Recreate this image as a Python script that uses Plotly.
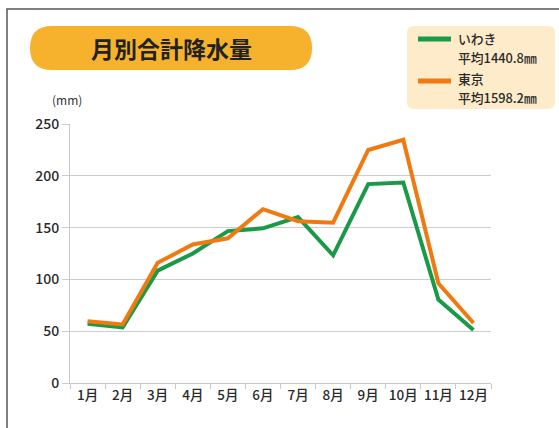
import plotly.graph_objects as go

months = ["1月", "2月", "3月", "4月", "5月", "6月", "7月", "8月", "9月", "10月", "11月", "12月"]
iwaki = [57.2, 53.6, 108.5, 125.0, 146.6, 149.3, 160.2, 123.3, 192.0, 193.5, 80.5, 51.1]
tokyo = [59.7, 56.5, 116.0, 133.7, 139.7, 167.8, 156.2, 154.7, 224.9, 234.8, 96.3, 57.9]
y_ticks = [0, 50, 100, 150, 200, 250]

W, H = 559, 428
L, R, T, B = 70, 491, 124, 383
FONT = "Noto Sans CJK JP"
GREEN = "#1a9a48"
ORANGE = "#ef7a12"


def px(x):
    return (x - L) / (R - L)


def py(y):
    return (B - y) / (B - T)


def rounded_rect(x0, y0, x1, y1, r):
    pts = [
        f"M {px(x0 + r)} {py(y0)}",
        f"L {px(x1 - r)} {py(y0)}",
        f"Q {px(x1)} {py(y0)} {px(x1)} {py(y0 + r)}",
        f"L {px(x1)} {py(y1 - r)}",
        f"Q {px(x1)} {py(y1)} {px(x1 - r)} {py(y1)}",
        f"L {px(x0 + r)} {py(y1)}",
        f"Q {px(x0)} {py(y1)} {px(x0)} {py(y1 - r)}",
        f"L {px(x0)} {py(y0 + r)}",
        f"Q {px(x0)} {py(y0)} {px(x0 + r)} {py(y0)}",
        "Z",
    ]
    return " ".join(pts)


fig = go.Figure()
fig.add_trace(go.Scatter(x=months, y=iwaki, mode="lines", name="いわき",
                         line=dict(color=GREEN, width=4), showlegend=False, hoverinfo="skip"))
fig.add_trace(go.Scatter(x=months, y=tokyo, mode="lines", name="東京",
                         line=dict(color=ORANGE, width=4), showlegend=False, hoverinfo="skip"))

shapes = [
    # outer frame (top and left visible)
    dict(type="rect", xref="paper", yref="paper", x0=px(7), y0=py(9), x1=px(620), y1=py(460),
         line=dict(color="#555555", width=1.5), fillcolor="rgba(0,0,0,0)", layer="below"),
    # title pill
    dict(type="path", xref="paper", yref="paper", path=rounded_rect(30, 26, 312, 70, 22),
         fillcolor="#f6b22c", line=dict(width=0), layer="below"),
    # legend box
    dict(type="path", xref="paper", yref="paper", path=rounded_rect(407, 26, 555, 109, 7),
         fillcolor="#fdebc9", line=dict(width=0), layer="below"),
    # legend swatches
    dict(type="line", xref="paper", yref="paper", x0=px(418), x1=px(451), y0=py(39), y1=py(39),
         line=dict(color=GREEN, width=5)),
    dict(type="line", xref="paper", yref="paper", x0=px(418), x1=px(451), y0=py(81), y1=py(81),
         line=dict(color=ORANGE, width=5)),
]

LEG_FONT = dict(family=FONT, size=12.8, color="#2a2a2a", weight=500)
annotations = [
    dict(text="<b>月別合計降水量</b>", x=px(171), y=py(48), xref="paper", yref="paper",
         showarrow=False, xanchor="center", yanchor="middle",
         font=dict(family=FONT, size=23, color="#222222")),
    dict(text="いわき", x=px(457), y=py(38), xref="paper", yref="paper", showarrow=False,
         xanchor="left", yanchor="middle", borderpad=0, font=LEG_FONT),
    dict(text="平均1440.8㎜", x=px(457), y=py(57), xref="paper", yref="paper", showarrow=False,
         xanchor="left", yanchor="middle", borderpad=0, font=LEG_FONT),
    dict(text="東京", x=px(457), y=py(79), xref="paper", yref="paper", showarrow=False,
         xanchor="left", yanchor="middle", borderpad=0, font=LEG_FONT),
    dict(text="平均1598.2㎜", x=px(457), y=py(97.5), xref="paper", yref="paper", showarrow=False,
         xanchor="left", yanchor="middle", borderpad=0, font=LEG_FONT),
    dict(text="(mm)", x=px(67), y=py(99), xref="paper", yref="paper", showarrow=False,
         xanchor="center", yanchor="middle", font=dict(family=FONT, size=12, color="#333333")),
]

fig.update_layout(
    width=W, height=H, autosize=False,
    margin=dict(l=L, r=W - R, t=T, b=H - B, pad=0),
    paper_bgcolor="white", plot_bgcolor="white",
    shapes=shapes, annotations=annotations,
    font=dict(family=FONT, size=14, color="#333333"),
    showlegend=False,
    xaxis=dict(type="category", categoryorder="array", categoryarray=months,
               range=[-0.5, 11.5], showgrid=False, showline=True, linecolor="#c8c8c8", linewidth=1,
               ticks="outside", tickson="boundaries", ticklen=5, tickcolor="#c8c8c8",
               tickangle=0,
               tickfont=dict(family=FONT, size=13.5, color="#2a2a2a", weight=500), fixedrange=True),
    yaxis=dict(range=[0, 250], tickvals=y_ticks, showgrid=True, gridcolor="#cccccc", gridwidth=1,
               showline=True, linecolor="#c8c8c8", linewidth=1, zeroline=False,
               ticks="outside", ticklen=7, tickcolor="#cccccc",
               tickfont=dict(family=FONT, size=14, color="#2a2a2a", weight=500), fixedrange=True),
)

fig.write_html("out.html", config={"displayModeBar": False},
               post_script="document.body.style.margin='0';document.body.style.overflow='hidden';")
